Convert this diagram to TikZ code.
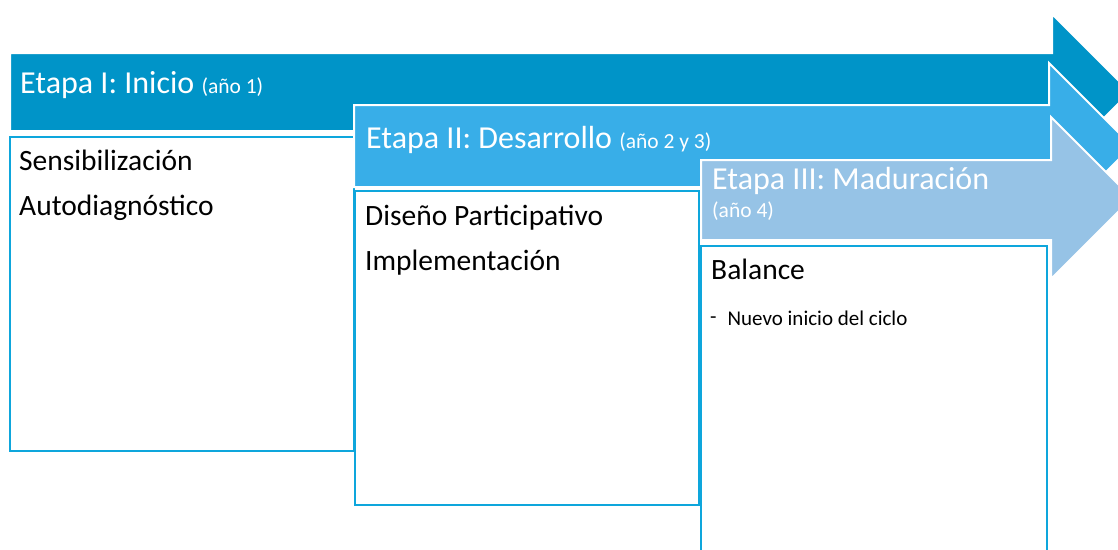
\documentclass[tikz,border=0pt]{standalone}
\usepackage{fontspec}
\setmainfont{Carlito}
\definecolor{arrA}{HTML}{0094C8}
\definecolor{arrB}{HTML}{38AEE8}
\definecolor{arrC}{HTML}{96C3E6}
\definecolor{boxline}{HTML}{0EA6DC}
\newcommand{\yearsize}{\fontsize{21.5}{26}\selectfont}
\begin{document}
\begin{tikzpicture}[x=1pt,y=-1pt,
  arrowshape/.style={draw=white,line width=2pt,line join=miter},
  stagebox/.style={draw=boxline,fill=white,line width=2.4pt},
  title/.style={anchor=base west,text=white,inner sep=0pt,font=\fontsize{32}{38}\selectfont},
  item/.style={anchor=base west,text=black,inner sep=0pt,font=\fontsize{29.5}{34}\selectfont}]
\useasboundingbox (0,0) rectangle (1118,549);
\clip (0,0) rectangle (1118,549);
% stage 1
\path[arrowshape,fill=arrA] (10,53) -- (1052,53) -- (1052,14) -- (1130,92) -- (1052,170) -- (1052,131) -- (10,131) -- cycle;
\draw[stagebox] (10,137) rectangle (354,451);
\node[title] (t1) at (20,93) {Etapa I: Inicio {\yearsize(año 1)}};
\node[item] (s1a) at (19,170) {Sensibilización};
\node[item] (s1b) at (19,215) {Autodiagnóstico};
% stage 2
\path[arrowshape,fill=arrB] (354,105) -- (1049,105) -- (1049,63) -- (1132,146) -- (1049,229) -- (1049,187) -- (354,187) -- cycle;
\draw[stagebox] (355,191) rectangle (699,505);
\node[title] (t2) at (366,148) {Etapa II: Desarrollo {\yearsize(año 2 y 3)}};
\node[item] (s2a) at (365,225) {Diseño Participativo};
\node[item] (s2b) at (365,270) {Implementación};
% stage 3
\path[arrowshape,fill=arrC] (701,160) -- (1051,160) -- (1051,117) -- (1132,198) -- (1051,279) -- (1051,240) -- (701,240) -- cycle;
\draw[stagebox] (701,246) rectangle (1047,570);
\node[title] (t3) at (712,189) {Etapa III: Maduración};
\node[title,font=\yearsize] (t3b) at (712,217) {(año 4)};
\node[item] (s3a) at (711,279) {Balance};
\node[anchor=base west,inner sep=0pt,font=\fontsize{21}{25}\selectfont] (s3b) at (710,325) {\raisebox{2pt}{-}\hspace{11pt}Nuevo inicio del ciclo};
\end{tikzpicture}
\end{document}
